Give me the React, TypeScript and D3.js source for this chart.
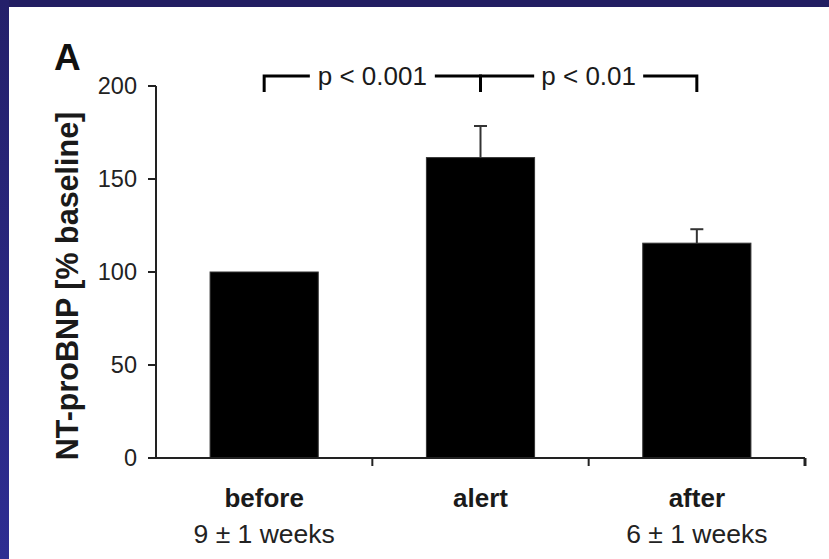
import React from "react";
import * as d3 from "d3";

const categories = ["before", "alert", "after"];
const values = [100, 161.5, 115.5];
const errors = [0, 17, 7.5];
const subLabels = ["9 ± 1 weeks", "", "6 ± 1 weeks"];
const yTicks = [0, 50, 100, 150, 200];
const compFrom = ["before", "alert"];
const compTo = ["alert", "after"];
const compLabels = ["p < 0.001", "p < 0.01"];
const compLabelWidths = [111, 95];

const W = 829;
const H = 559;
const FONT = "'Liberation Sans', Arial, Helvetica, sans-serif";

export default function App() {
  const x = d3
    .scaleBand<string>()
    .domain(categories)
    .range([156, 805])
    .paddingInner(0.5)
    .paddingOuter(0.25);
  const y = d3.scaleLinear().domain([0, 200]).range([458, 86]);
  const step = x.step();
  const x0 = 156;
  const bounds = d3.range(categories.length + 1).map((i) => x0 + i * step);
  const cx = (c: string) => (x(c) as number) + x.bandwidth() / 2;

  const bracketY = 76;
  const bracketDrop = 92;
  const gap = 7;

  return (
    <svg
      width={W}
      height={H}
      style={{ position: "fixed", left: 0, top: 0, display: "block" }}
      fontFamily={FONT}
    >
      <defs>
        <linearGradient id="lb" x1="0" y1="0" x2="0" y2="1">
          <stop offset="0" stopColor="#24206a" />
          <stop offset="1" stopColor="#2e2d92" />
        </linearGradient>
      </defs>
      <rect x={0} y={0} width={W} height={H} fill="#ffffff" />
      <rect x={0} y={0} width={W} height={7} fill="#221e62" />
      <rect x={0} y={0} width={9} height={H} fill="url(#lb)" />

      {/* panel letter */}
      <text x={54} y={70} fontSize={37} fontWeight="bold" fill="#111">
        A
      </text>

      {/* y axis label */}
      <text
        transform="translate(78,286) rotate(-90)"
        textAnchor="middle"
        fontSize={30.5}
        fontWeight="bold"
        fill="#1a1a1a"
      >
        NT-proBNP [% baseline]
      </text>

      {/* bars */}
      {categories.map((c, i) => (
        <rect
          key={c}
          x={x(c)}
          y={y(values[i])}
          width={x.bandwidth()}
          height={y(0) - y(values[i])}
          fill="#000"
          stroke="#333"
          strokeWidth={1}
        />
      ))}

      {/* error bars */}
      {categories.map((c, i) =>
        errors[i] > 0 ? (
          <g key={"e" + c} stroke="#333" strokeWidth={2}>
            <line x1={cx(c)} x2={cx(c)} y1={y(values[i])} y2={y(values[i] + errors[i])} />
            <line
              x1={cx(c) - 6.5}
              x2={cx(c) + 6.5}
              y1={y(values[i] + errors[i])}
              y2={y(values[i] + errors[i])}
            />
          </g>
        ) : null
      )}

      {/* y axis */}
      <line x1={x0} x2={x0} y1={y(200)} y2={y(0)} stroke="#222" strokeWidth={2} />
      {yTicks.map((t) => (
        <g key={"t" + t}>
          <line x1={x0 - 8} x2={x0} y1={y(t)} y2={y(t)} stroke="#222" strokeWidth={2} />
          <text
            x={137}
            y={y(t)}
            dy="0.36em"
            textAnchor="end"
            fontSize={23.5}
            fill="#222"
          >
            {t}
          </text>
        </g>
      ))}

      {/* x axis */}
      <line x1={x0 - 8} x2={bounds[bounds.length - 1]} y1={y(0)} y2={y(0)} stroke="#222" strokeWidth={2} />
      {bounds.slice(1).map((b, i) => (
        <line
          key={"xb" + i}
          x1={b}
          x2={b}
          y1={y(0)}
          y2={y(0) + 8}
          stroke="#222"
          strokeWidth={i === bounds.length - 2 ? 3 : 2}
        />
      ))}

      {/* x labels */}
      {categories.map((c, i) => (
        <g key={"l" + c}>
          <text x={cx(c)} y={507} textAnchor="middle" fontSize={26} fontWeight="bold" fill="#1a1a1a">
            {c}
          </text>
          {subLabels[i] ? (
            <text x={cx(c)} y={543} textAnchor="middle" fontSize={26.5} fill="#222">
              {subLabels[i]}
            </text>
          ) : null}
        </g>
      ))}

      {/* significance brackets */}
      {compLabels.map((lab, i) => {
        const a = cx(compFrom[i]);
        const b = cx(compTo[i]);
        const mid = (a + b) / 2;
        const w = compLabelWidths[i];
        return (
          <g key={"c" + i}>
            <path
              d={`M${a},${bracketDrop}V${bracketY}H${mid - w / 2 - gap}`}
              fill="none"
              stroke="#000"
              strokeWidth={3}
            />
            <path
              d={`M${mid + w / 2 + gap},${bracketY}H${b}V${bracketDrop}`}
              fill="none"
              stroke="#000"
              strokeWidth={3}
            />
            <text x={mid} y={85} textAnchor="middle" fontSize={26} fill="#1a1a1a">
              {lab}
            </text>
          </g>
        );
      })}
    </svg>
  );
}
